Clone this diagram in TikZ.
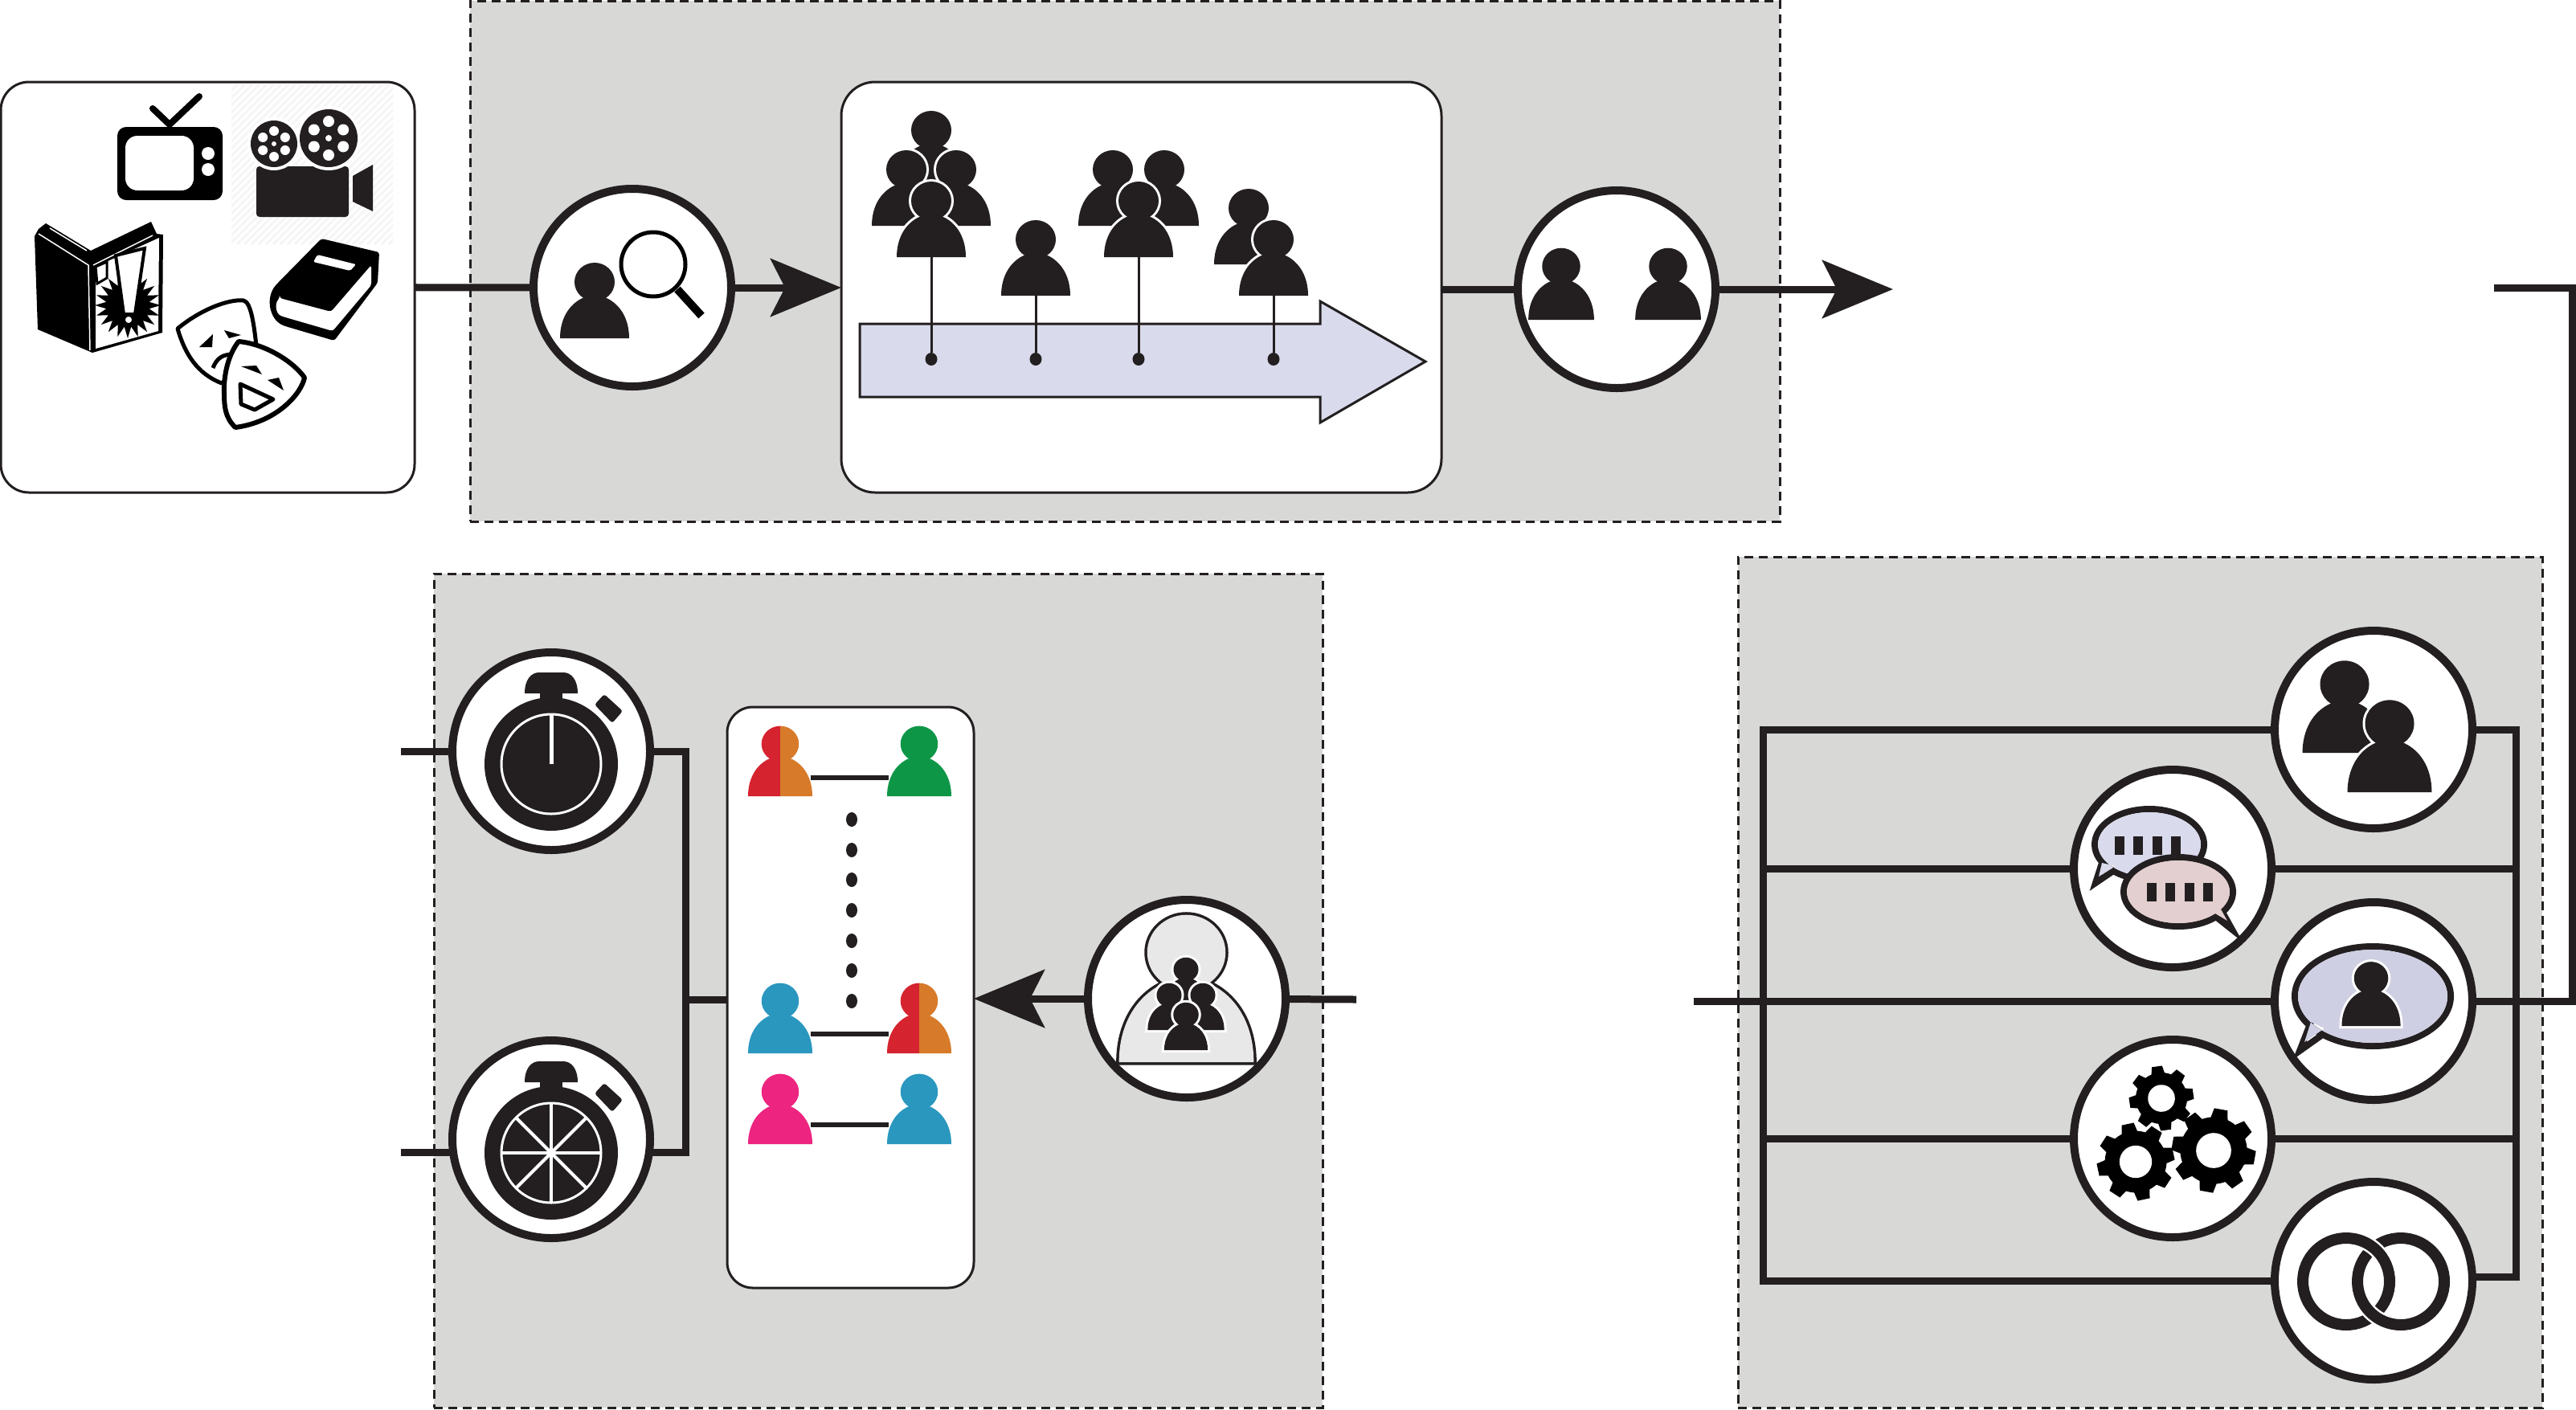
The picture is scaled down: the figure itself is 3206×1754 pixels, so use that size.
\documentclass[tikz,border=0pt]{standalone}
\usepackage{tikz}
\usetikzlibrary{arrows.meta,backgrounds,shapes.geometric}

\definecolor{ink}{HTML}{231F20}
\definecolor{panelgray}{HTML}{D8D9D7}
\definecolor{lilac}{HTML}{D9DAEC}
\definecolor{rose}{HTML}{E3CFCF}
\definecolor{slate}{HTML}{CFCFE3}
\definecolor{ghost}{HTML}{E8E8E8}
\definecolor{redp}{HTML}{D5232F}
\definecolor{orangep}{HTML}{D77A2A}
\definecolor{greenp}{HTML}{0E9647}
\definecolor{bluep}{HTML}{2A97BF}
\definecolor{pinkp}{HTML}{ED2480}

\tikzset{
  panel/.style={draw=ink,fill=panelgray,line width=3pt,dash pattern=on 11pt off 7pt,anchor=north west,inner sep=0pt,outer sep=0pt},
  card/.style={draw=ink,fill=white,line width=3pt,anchor=north west,inner sep=0pt,outer sep=0pt},
  hub/.style={circle,draw=ink,fill=white,line width=10pt,minimum size=246pt,inner sep=0pt,outer sep=0pt},
  bus/.style={draw=ink,line width=9pt},
  bigarrow/.style={-{Stealth[length=88pt,width=72pt,inset=18pt]}},
  stem/.style={draw=ink,line width=3pt},
  link/.style={draw=ink,line width=6pt},
  watch/.pic={
    \fill[ink] (0,0) circle[radius=83];
    \fill[ink] (-33,-88) .. controls (-33,-105) and (-25,-114) .. (-15,-114) -- (15,-114) .. controls (25,-114) and (33,-105) .. (33,-88) -- cycle;
    \fill[ink] (-14,-90) rectangle (14,-75);
    \fill[ink,rounded corners=3pt] (54,-74) -- (66,-87) -- (89,-66) -- (76,-51) -- cycle;
    \draw[white,line width=3pt] (0,0) circle[radius=62];
  }
}

\newcommand{\personpath}{(-43,0) .. controls (-43,-24) and (-32,-42) .. (-15,-50) -- (15,-50) .. controls (32,-42) and (43,-24) .. (43,0) -- cycle (0,-70) circle[x radius=25,y radius=24]}
\newcommand{\person}[4][ink]{\begin{scope}[shift={(#2,#3)},scale=#4]\fill[#1] \personpath;\end{scope}}
\newcommand{\haloperson}[4][ink]{\begin{scope}[shift={(#2,#3)},scale=#4]\draw[white,line width=6pt] \personpath;\fill[#1] \personpath;\end{scope}}
\newcommand{\gear}[4]{\begin{scope}[shift={(#1,#2)},scale=#3,rotate=#4]
  \fill[black] (0,0) circle[radius=.8];
  \foreach \a in {0,45,...,315} {\fill[black,rotate=\a] (-.22,.7) -- (-.16,1) -- (.16,1) -- (.22,.7) -- cycle;}
  \fill[white] (0,0) circle[radius=.42];
\end{scope}}
\newcommand{\bars}[2]{\foreach \k in {0,1,2,3} {\fill[ink] ({#1+\k*23.3},#2) rectangle ++(12,23);}}

\begin{document}
\begin{tikzpicture}[x=1pt,y=-1pt]
  \useasboundingbox (0,0) rectangle (3206,1754);

  \begin{scope}[on background layer]
    \node[panel,minimum width=1630,minimum height=648] (scout) at (585,1) {};
    \node[panel,minimum width=1106,minimum height=1038] (pairing) at (540,714) {};
    \node[panel,minimum width=1001,minimum height=1059] (signals) at (2163,693) {};
  \end{scope}

  \node[card,rounded corners=35pt,minimum width=515,minimum height=511] (media) at (1,102) {};
  \node[card,rounded corners=42pt,minimum width=747,minimum height=511] (timeline) at (1047,102) {};
  \node[card,rounded corners=32pt,minimum width=307,minimum height=723] (pairs) at (905,880) {};

  \node[hub] (search) at (787,358) {};
  \node[hub] (roster) at (2012,360) {};
  \node[hub] (crowd) at (1477,1243) {};
  \node[hub] (watcha) at (686,935) {};
  \node[hub] (watchb) at (686,1418) {};
  \node[hub] (people) at (2954,908) {};
  \node[hub] (chat) at (2704,1081) {};
  \node[hub] (speech) at (2954,1246) {};
  \node[hub] (gears) at (2704,1417) {};
  \node[hub] (rings) at (2954,1594) {};

  \coordinate (topend) at (2356,360);
  \coordinate (topstub) at (3104,358);
  \coordinate (topcorner) at (3201,358);
  \coordinate (midstub) at (2108,1246);
  \coordinate (crowdstub) at (1688,1244);
  \coordinate (stuba) at (499,935);
  \coordinate (stubb) at (499,1434);
  \coordinate (joinl) at (853,1244);
  \coordinate (busl) at (2194,908);
  \coordinate (busr) at (3131,908);

  \begin{scope}[on background layer]
    \draw[bus] (media) -- (search);
    \draw[bus,bigarrow] (search) -- (timeline.west |- search);
    \draw[bus] (timeline.east |- roster) -- (roster);
    \draw[bus,bigarrow] (roster) -- (topend);
    \draw[bus,line join=miter] (topstub) -- (topcorner) -- (topcorner |- speech) -- (speech);
    \draw[bus] (midstub) -- (speech);
    \draw[bus,line join=miter] (people) -- (busl) -- (busl |- rings) -- (rings);
    \draw[bus,line join=miter] (people) -- (busr) -- (busr |- 0,1589) -- (2954,1589);
    \draw[bus] (busl |- chat) -- (busr |- chat);
    \draw[bus] (busl |- gears) -- (busr |- gears);
    \draw[bus] (crowdstub) -- (crowd);
    \draw[bus,bigarrow] (crowd) -- (pairs.east |- crowd);
    \draw[bus] (stuba) -- (watcha);
    \draw[bus] (stubb) -- (stubb -| watchb);
    \draw[bus,line join=miter] (watcha) -- (joinl |- watcha) -- (joinl |- 0,1434) -- (686,1434);
    \draw[bus] (joinl) -- (pairs.west |- joinl);
  \end{scope}

  % media
  \begin{scope}
    \clip (288,105) rectangle (489,304);
    \foreach \s in {0,9,...,410} {\draw[black!4,line width=3pt] (288+\s-200,304) -- (288+\s,104);}
  \end{scope}
  \fill[black,rounded corners=11pt] (146,158) rectangle (277,249);
  \fill[white,rounded corners=15pt] (156,169) rectangle (241,237);
  \fill[white] (259,191) circle[radius=8] (259,211) circle[radius=8];
  \draw[black,line width=8pt,line cap=round] (190,135) -- (211,155) -- (248,120);
  \fill[ink,rounded corners=4pt] (319,207) rectangle (434,270);
  \fill[ink] (439,219) -- (464,205) -- (464,263) -- (439,251) -- cycle;
  \draw[white,line width=8pt] (341,179) circle[radius=29] (409,172) circle[radius=36];
  \fill[ink] (341,179) circle[radius=29] (409,172) circle[radius=36];
  \foreach \a in {30,90,...,330} {
    \fill[white] ({341+16*cos(\a)},{179+16*sin(\a)}) circle[radius=6];
    \fill[white] ({409+21*cos(\a)},{172+21*sin(\a)}) circle[radius=7];
  }
  \fill[white] (341,179) circle[radius=3] (409,172) circle[radius=4];
  \fill[black] (57,278) -- (113,312) -- (188,276) -- (195,291) -- (203,292) -- (202,414) -- (115,439) -- (47,410) -- (43,294) -- (48,285) -- cycle;
  \draw[white,line width=1.5pt] (48,291) -- (110,330) -- (112,436) (116,330) -- (190,293) (62,284) -- (108,312);
  \fill[white] (119,332) -- (198,296) -- (197,412) -- (119,434) -- cycle;
  \fill[black] plot[samples at={0,...,39}] ({159+(mod(\x,2)==0 ? 41 : 27)*cos(\x*9)},{380+(mod(\x,2)==0 ? 41 : 27)*sin(\x*9)}) -- cycle;
  \draw[black,fill=white,line width=4pt,line join=miter] (144,318) -- (180,309) -- (168,391) -- (154,391) -- cycle;
  \draw[black,fill=white,line width=4pt] (160,398) circle[radius=6];
  \draw[black,fill=white,line width=3pt] (119,332) -- (133,326) -- (133,346) -- (121,353) -- cycle;
  \fill[black,rounded corners=3pt] (400,297) -- (472,314) -- (470,352) -- (416,424) -- (355,406) .. controls (335,398) and (330,370) .. (345,353) -- cycle;
  \fill[white,rounded corners=3pt] (348,371) -- (412,388) -- (462,330) -- (462,355) -- (414,412) -- (352,394) .. controls (343,390) and (342,378) .. (348,371) -- cycle;
  \fill[white,rounded corners=2pt] (395,317) -- (443,329) -- (436,337) -- (390,326) -- cycle;
  \draw[black,fill=white,line width=5pt,line join=round] (221,409) .. controls (250,385) and (285,372) .. (303,374) .. controls (312,376) and (316,400) .. (320,440) -- (276,477) .. controls (245,465) and (230,440) .. (221,409) -- cycle;
  \fill[black] (248,432) -- (265,416) -- (264,432) -- cycle (279,411) -- (300,417) -- (285,421) -- cycle;
  \draw[black,line width=5pt] (265,458) .. controls (270,445) and (278,441) .. (290,441);
  \draw[black,fill=white,line width=6pt,line join=round] (297,425) .. controls (330,428) and (365,450) .. (379,470) .. controls (375,490) and (345,525) .. (293,532) .. controls (280,520) and (279,505) .. (279,490) .. controls (278,465) and (285,440) .. (297,425) -- cycle;
  \fill[black] (300,456) -- (319,455) -- (326,466) -- cycle (333,473) -- (347,470) -- (353,486) -- cycle;
  \draw[black,fill=white,line width=5pt,line join=round] (299,478) -- (340,497) -- (317,510) -- (300,503) -- cycle;

  % search
  \person{740}{421}{1}
  \draw[black,fill=white,line width=5pt] (813,329) circle[radius=40];
  \draw[black,line width=10pt] (843,360) -- (873,393);

  % timeline
  \fill[lilac,draw=ink,line width=3pt,line join=miter] (1070,403) -- (1643,403) -- (1643,375) -- (1774,450) -- (1643,526) -- (1643,494) -- (1070,494) -- cycle;
  \haloperson{1159}{232}{1}
  \haloperson{1128}{281}{1}
  \haloperson{1190}{281}{1}
  \haloperson{1159}{320}{1}
  \haloperson{1289}{368}{1}
  \haloperson{1385}{281}{1}
  \haloperson{1449}{281}{1}
  \haloperson{1417}{320}{1}
  \haloperson{1554}{329}{1}
  \haloperson{1585}{368}{1}
  \foreach \x/\y/\n in {1159/320/p,1289/368/q,1417/320/r,1585/368/s} {
    \node[ellipse,fill=ink,minimum width=15pt,minimum height=16pt,inner sep=0pt] (dot\n) at (\x,447) {};
    \draw[stem] (\x,\y) -- (dot\n);
  }

  % roster
  \person{1943}{398}{.95}
  \person{2076}{398}{.95}

  % crowd
  \begin{scope}[shift={(1476.5,1322)},scale=1.95]
    \draw[ink,line width=7pt] \personpath;
    \fill[ghost] \personpath;
  \end{scope}
  \haloperson{1476}{1250}{.62}
  \haloperson{1455}{1282}{.62}
  \haloperson{1497}{1282}{.62}
  \haloperson{1476}{1307}{.63}

  % pairs
  \coordinate (pa) at (971,991);
  \coordinate (pb) at (1144,991);
  \coordinate (pc) at (971,1311);
  \coordinate (pd) at (1144,1311);
  \coordinate (pe) at (971,1424);
  \coordinate (pf) at (1144,1424);
  \draw[link] ([shift={(38,-23)}]pa) -- ([shift={(-38,-23)}]pb);
  \draw[link] ([shift={(38,-24)}]pc) -- ([shift={(-38,-24)}]pd);
  \draw[link] ([shift={(38,-24)}]pe) -- ([shift={(-38,-24)}]pf);
  \begin{scope}
    \clip (931,880) rectangle (971,1000);
    \person[redp]{971}{991}{.93}
  \end{scope}
  \begin{scope}
    \clip (971,880) rectangle (1020,1000);
    \person[orangep]{971}{991}{.93}
  \end{scope}
  \person[greenp]{1144}{991}{.93}
  \person[bluep]{971}{1311}{.93}
  \begin{scope}
    \clip (1104,1200) rectangle (1144,1320);
    \person[redp]{1144}{1311}{.93}
  \end{scope}
  \begin{scope}
    \clip (1144,1200) rectangle (1190,1320);
    \person[orangep]{1144}{1311}{.93}
  \end{scope}
  \person[pinkp]{971}{1424}{.93}
  \person[bluep]{1144}{1424}{.93}
  \foreach \y in {1020,1058,1095,1133,1171,1208,1246} {
    \fill[ink] (1060,\y) ellipse[x radius=7,y radius=9];
  }

  % stopwatches
  \pic at (686,951) {watch};
  \draw[white,line width=5pt] (686,951) -- (686,889);
  \pic at (686,1435) {watch};
  \foreach \a in {0,45,...,315} {
    \draw[white,line width=4pt] (686,1435) -- ++(\a:62);
  }

  % people
  \haloperson{2918}{937}{1.22}
  \haloperson{2974}{986}{1.22}

  % chat
  \draw[ink,line width=8pt,line join=miter] (2675,1051) ellipse[x radius=68,y radius=44] (2616,1074) -- (2608,1099) -- (2633,1082);
  \fill[lilac] (2675,1051) ellipse[x radius=64,y radius=40] (2616,1074) -- (2612,1091) -- (2633,1078) -- cycle;
  \bars{2632}{1041}
  \draw[ink,fill=rose,line width=8pt] (2711,1110) ellipse[x radius=68,y radius=43];
  \draw[ink,line width=8pt,line join=miter] (2763,1130) -- (2778,1157) -- (2754,1138);
  \fill[rose] (2711,1110) ellipse[x radius=64,y radius=39] (2763,1130) -- (2772,1146) -- (2752,1134) -- cycle;
  \bars{2672}{1099}

  % speech
  \draw[ink,line width=8pt,line join=miter] (2953,1240) ellipse[x radius=97,y radius=62] (2876,1272) -- (2862,1308) -- (2893,1286);
  \fill[slate] (2953,1240) ellipse[x radius=93,y radius=58] (2876,1272) -- (2868,1297) -- (2893,1280) -- cycle;
  \haloperson{2951}{1277}{.85}

  % gears
  \gear{2690}{1367}{40}{8}
  \gear{2658}{1446}{48}{12}
  \gear{2755}{1432}{52}{-10}

  % rings
  \draw[ink,line width=14pt] (2920,1595) circle[radius=54];
  \draw[white,line width=19pt] (2988,1595) circle[radius=54];
  \draw[ink,line width=14pt] (2988,1595) circle[radius=54];
  \begin{scope}
    \clip (2930,1530) rectangle (2980,1572);
    \draw[white,line width=19pt] (2920,1595) circle[radius=54];
    \draw[ink,line width=14pt] (2920,1595) circle[radius=54];
  \end{scope}
\end{tikzpicture}
\end{document}
